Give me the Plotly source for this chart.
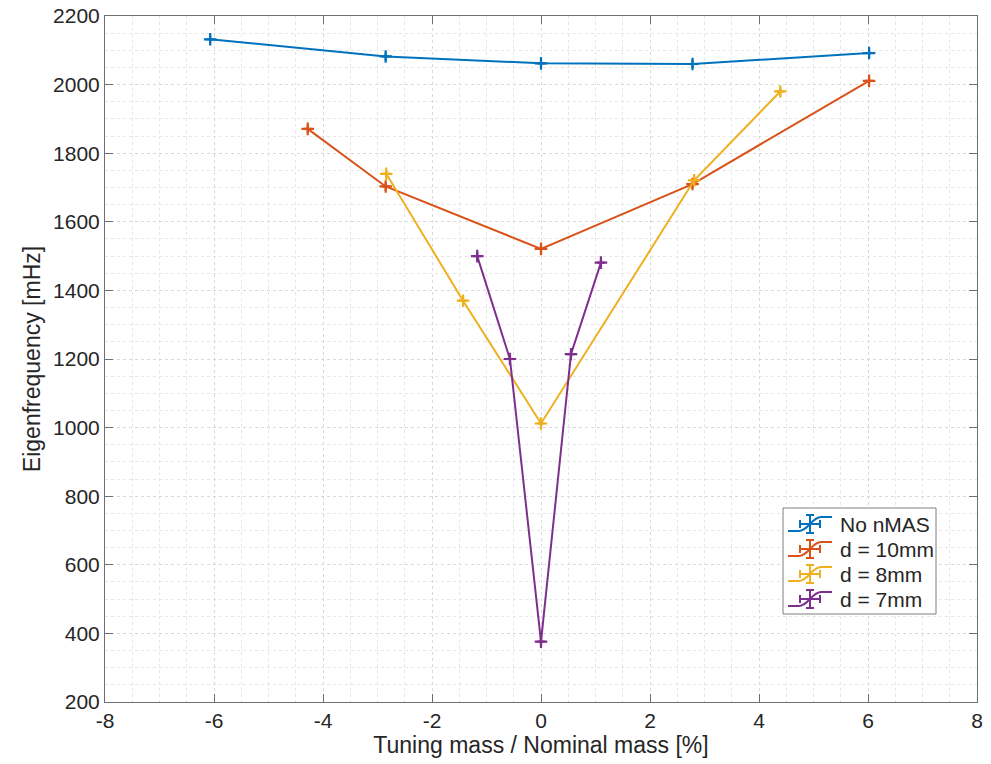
import plotly.graph_objects as go

# Tuning mass relative to nominal mass [%] and measured eigenfrequency [mHz]
x_no_nmas = [-6.07, -2.85, 0.0, 2.78, 6.02]
f_no_nmas = [2132, 2082, 2062, 2060, 2092]

x_d10 = [-4.28, -2.85, 0.0, 2.78, 6.02]
f_d10 = [1871, 1703, 1521, 1710, 2011]

x_d8 = [-2.84, -1.43, 0.0, 2.81, 4.39]
f_d8 = [1740, 1370, 1012, 1721, 1980]

x_d7 = [-1.17, -0.57, 0.0, 0.55, 1.10]
f_d7 = [1500, 1200, 376, 1214, 1481]

# Measurement uncertainties (mass ratio [%], frequency [mHz])
ex_no_nmas = [0.07, 0.07, 0.07, 0.07, 0.07]
ef_no_nmas = [12, 12, 12, 12, 12]
ex_d10 = [0.07, 0.07, 0.07, 0.07, 0.07]
ef_d10 = [12, 12, 12, 12, 12]
ex_d8 = [0.07, 0.07, 0.07, 0.07, 0.07]
ef_d8 = [12, 12, 12, 12, 12]
ex_d7 = [0.07, 0.07, 0.07, 0.07, 0.07]
ef_d7 = [12, 12, 12, 12, 12]

series_names = ["No nMAS", "d = 10mm", "d = 8mm", "d = 7mm"]
series_colors = ["#0072BD", "#D95319", "#EDB120", "#7E2F8E"]

x_ticks = [-8, -6, -4, -2, 0, 2, 4, 6, 8]
y_ticks = [200, 400, 600, 800, 1000, 1200, 1400, 1600, 1800, 2000, 2200]

FONT = "Liberation Sans, Arial, sans-serif"
TEXT_COLOR = "#262626"
AXIS_COLOR = "#707070"

# Figure geometry (pixels)
W, H = 991, 764
ML, MR, MT, MB = 105, 14, 16, 62
PW, PH = W - ML - MR, H - MT - MB


def px(xpix):
    """Horizontal pixel position -> paper coordinate."""
    return (xpix - ML) / PW


def py(ypix):
    """Vertical pixel position (from top) -> paper coordinate."""
    return (H - MB - ypix) / PH


fig = go.Figure()

data = [
    (x_no_nmas, f_no_nmas, ex_no_nmas, ef_no_nmas),
    (x_d10, f_d10, ex_d10, ef_d10),
    (x_d8, f_d8, ex_d8, ef_d8),
    (x_d7, f_d7, ex_d7, ef_d7),
]

for (xs, ys, exs, eys), name, color in zip(data, series_names, series_colors):
    fig.add_trace(go.Scatter(
        x=xs, y=ys, name=name,
        mode="lines+markers",
        line=dict(color=color, width=2),
        marker=dict(symbol="cross-thin", size=9, line=dict(color=color, width=2.2), color=color),
        error_x=dict(type="data", array=exs, color=color, thickness=2.2, width=0),
        error_y=dict(type="data", array=eys, color=color, thickness=2.2, width=0),
        showlegend=False,
    ))

axis_common = dict(
    showline=True, linecolor=AXIS_COLOR, linewidth=1, mirror="ticks",
    ticks="inside", ticklen=8, tickcolor=AXIS_COLOR, tickwidth=1,
    tickfont=dict(family=FONT, size=21, color=TEXT_COLOR),
    showgrid=True, gridcolor="#d9d9d9", griddash="dot", gridwidth=1,
    zeroline=False, automargin=False,
)

fig.update_xaxes(
    range=[-8, 8], tickvals=x_ticks, ticktext=[str(v) for v in x_ticks],
    title=dict(text="Tuning mass / Nominal mass [%]", font=dict(family=FONT, size=23, color=TEXT_COLOR), standoff=4),
    minor=dict(dtick=0.5, showgrid=True, gridcolor="#e6e6e6", griddash="dot", gridwidth=1, ticks=""),
    **axis_common,
)
fig.update_yaxes(
    range=[200, 2200], tickvals=y_ticks, ticktext=[str(v) for v in y_ticks],
    title=dict(text="Eigenfrequency [mHz]", font=dict(family=FONT, size=23, color=TEXT_COLOR), standoff=6),
    minor=dict(dtick=50, showgrid=True, gridcolor="#e6e6e6", griddash="dot", gridwidth=1, ticks=""),
    **axis_common,
)

# Legend box with errorbar-style icons
box_left, box_right, box_top, box_bottom = 783, 936, 508, 614
fig.add_shape(type="rect", xref="paper", yref="paper",
              x0=px(box_left), x1=px(box_right), y0=py(box_bottom), y1=py(box_top),
              line=dict(color="#7f7f7f", width=1), fillcolor="white", layer="above")

row_top, row_step = 524, 25
for i, (name, color) in enumerate(zip(series_names, series_colors)):
    cy = row_top + i * row_step
    # S-shaped line of the icon
    path = (f"M {px(788)},{py(cy + 7)} L {px(799)},{py(cy + 7)} "
            f"C {px(808)},{py(cy + 7)} {px(812)},{py(cy - 7)} {px(821)},{py(cy - 7)} "
            f"L {px(832)},{py(cy - 7)}")
    fig.add_shape(type="path", xref="paper", yref="paper", path=path,
                  line=dict(color=color, width=2), layer="above")
    # Cross with caps
    cx = 810
    segs = [
        (cx - 10, cy, cx + 10, cy),
        (cx, cy - 9, cx, cy + 9),
        (cx - 10, cy - 4, cx - 10, cy + 4),
        (cx + 10, cy - 4, cx + 10, cy + 4),
        (cx - 4, cy - 9, cx + 4, cy - 9),
        (cx - 4, cy + 9, cx + 4, cy + 9),
    ]
    for x0, y0, x1, y1 in segs:
        fig.add_shape(type="line", xref="paper", yref="paper",
                      x0=px(x0), y0=py(y0), x1=px(x1), y1=py(y1),
                      line=dict(color=color, width=2), layer="above")
    fig.add_annotation(xref="paper", yref="paper", x=px(838), y=py(cy),
                       xanchor="left", yanchor="middle", showarrow=False,
                       text=name, font=dict(family=FONT, size=21, color=TEXT_COLOR))

fig.update_layout(
    width=W, height=H,
    margin=dict(l=ML, r=MR, t=MT, b=MB),
    paper_bgcolor="white", plot_bgcolor="white",
    font=dict(family=FONT, color=TEXT_COLOR),
    showlegend=False,
)

fig.write_html("out.html")
